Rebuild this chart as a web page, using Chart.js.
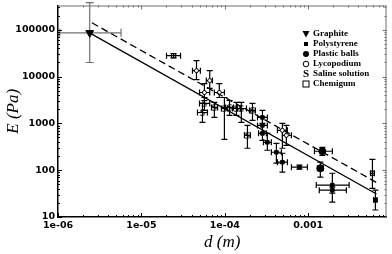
<!DOCTYPE html>
<html><head><meta charset="utf-8">
<script src="https://cdn.jsdelivr.net/npm/chart.js@4.4.0/dist/chart.umd.min.js"></script>
<style>html,body{margin:0;padding:0;background:#fff;}#wrap{width:392px;height:254px;}</style>
</head><body><div id="wrap"><canvas id="c" width="392" height="254"></canvas></div>
<script>
// ---- tick labels ----
const xTickValues = [1e-6, 1e-5, 1e-4, 1e-3];
const xTickLabels = ['1e-06', '1e-05', '1e-04', '0.001'];
const yTickValues = [10, 100, 1000, 10000, 100000];
const yTickLabels = ['10', '100', '1000', '10000', '100000'];
const seriesNames = ['Graphite', 'Polystyrene', 'Plastic balls', 'Lycopodium', 'Saline solution', 'Chemigum'];

// ---- data rows: [d, E, dLow, dHigh, ELow, EHigh] ----
const graphite = [
  [2.4e-6, 8.6e4, 1.05e-6, 5.7e-6, 2.0e4, 3.8e5]
];
const polystyrene = [
  [7.85e-4, 116, 6.3e-4, 9.8e-4, 105, 128],
  [6.4e-3, 23, 6.1e-3, 6.7e-3, 14.1, 37.5],
  [3.24e-4, 394, 2.91e-4, 3.62e-4, 267, 612],
  [4.16e-4, 242, 3.62e-4, 4.78e-4, 141, 375],
  [4.91e-4, 148, 4.28e-4, 5.64e-4, 91, 230],
  [1.95e-3, 48, 1.25e-3, 3.1e-3, 20.8, 86],
  [1.95e-3, 37.5, 1.36e-3, 2.87e-3, 32.4, 43.5],
  [2.83e-4, 1340, 2.47e-4, 3.24e-4, 1000, 1890],
  [2.83e-4, 906, 2.47e-4, 3.24e-4, 612, 1340],
  [2.83e-4, 612, 2.54e-4, 3.15e-4, 435, 906]
];
const plasticBalls = [
  [1.48e-3, 254, 1.19e-3, 1.95e-3, 208, 308],
  [1.4e-3, 110, 1.29e-3, 1.52e-3, 71, 148]
];
const lycopodium = [
  [4.58e-5, 13400, 4.1e-5, 5.1e-5, 8600, 21900],
  [6.6e-5, 8200, 6.0e-5, 7.1e-5, 5600, 13400],
  [5.7e-5, 4570, 4.98e-5, 6.6e-5, 3080, 7100],
  [8.6e-5, 4570, 7.5e-5, 9.9e-5, 3570, 7100],
  [4.91e-4, 710, 4.28e-4, 5.64e-4, 294, 1000],
  [5.48e-4, 556, 4.91e-4, 6.3e-4, 340, 906]
];
const saline = [
  [5.7e-5, 2670, 4.98e-5, 6.6e-5, 1890, 3570],
  [5.4e-5, 1710, 4.71e-5, 6.2e-5, 1050, 2670],
  [7.5e-5, 2190, 6.93e-5, 8.2e-5, 1340, 2800],
  [9.9e-5, 2080, 9.1e-5, 1.08e-4, 457, 3570],
  [1.14e-4, 2190, 1.02e-4, 1.27e-4, 1480, 3080],
  [1.38e-4, 2080, 1.24e-4, 1.54e-4, 1480, 2800],
  [1.58e-4, 2080, 1.42e-4, 1.82e-4, 1050, 2800],
  [1.87e-4, 556, 1.72e-4, 2.03e-4, 294, 906],
  [2.15e-4, 1890, 1.98e-4, 2.33e-4, 1160, 2670]
];
const chemigum = [
  [2.43e-5, 28000, 2.0e-5, 2.95e-5, 25000, 31000],
  [5.9e-3, 86, 5.6e-3, 6.2e-3, 41, 171]
];
// fit lines
const fitSolidD = [2.45e-6, 6.6e-3];
const fitSolidE = [8.4e4, 31];
const fitDashedD = [2.55e-6, 6.8e-3];
const fitDashedE = [1.41e5, 53];

function rows(arr) {
  return arr.map(r => ({x: r[0], y: r[1], xMin: r[2], xMax: r[3], yMin: r[4], yMax: r[5]}));
}
function makeS() {
  const c = document.createElement('canvas');
  c.width = 8; c.height = 11;
  const g = c.getContext('2d');
  g.font = 'bold 10px "Liberation Serif"';
  g.textAlign = 'center'; g.textBaseline = 'middle'; g.fillStyle = '#000';
  g.fillText('S', 4, 6);
  return c;
}
const sImg = makeS();

const errorBars = {
  id: 'errorBars',
  beforeDatasetsDraw(chart) {
    const {ctx, scales: {x, y}} = chart;
    chart.data.datasets.forEach((ds, i) => {
      if (!ds.errors) return;
      ctx.save();
      ctx.strokeStyle = ds.errColor || '#000';
      ctx.lineWidth = 1.2;
      const c = ds.cap || 3;
      ds.data.forEach(p => {
        const px = x.getPixelForValue(p.x), py = y.getPixelForValue(p.y);
        const x0 = x.getPixelForValue(p.xMin), x1 = x.getPixelForValue(p.xMax);
        const y0 = y.getPixelForValue(p.yMin), y1 = y.getPixelForValue(p.yMax);
        ctx.beginPath();
        ctx.moveTo(x0, py); ctx.lineTo(x1, py);
        ctx.moveTo(x0, py - c); ctx.lineTo(x0, py + c);
        ctx.moveTo(x1, py - c); ctx.lineTo(x1, py + c);
        ctx.moveTo(px, y0); ctx.lineTo(px, y1);
        ctx.moveTo(px - c, y0); ctx.lineTo(px + c, y0);
        ctx.moveTo(px - c, y1); ctx.lineTo(px + c, y1);
        ctx.stroke();
      });
      ctx.restore();
    });
  }
};

const frameTicks = {
  id: 'frameTicks',
  afterDraw(chart) {
    const {ctx, chartArea: a, scales: {x, y}} = chart;
    ctx.save();
    ctx.lineWidth = 1;
    ctx.strokeStyle = '#707070';
    ctx.beginPath();
    ctx.moveTo(a.left, a.top + 0.5); ctx.lineTo(a.right, a.top + 0.5);
    ctx.moveTo(a.right - 0.5, a.top); ctx.lineTo(a.right - 0.5, a.bottom);
    ctx.stroke();
    for (let e = -7; e <= -1; e++) {
      for (let m = 1; m <= 9; m++) {
        const v = m * Math.pow(10, e);
        if (v < x.min * 0.999 || v > x.max) continue;
        const px = Math.round(x.getPixelForValue(v)) + 0.5;
        const len = m === 1 ? 4 : 2;
        ctx.strokeStyle = '#000';
        ctx.beginPath(); ctx.moveTo(px, a.bottom); ctx.lineTo(px, a.bottom - len); ctx.stroke();
        ctx.strokeStyle = '#707070';
        ctx.beginPath(); ctx.moveTo(px, a.top); ctx.lineTo(px, a.top + len); ctx.stroke();
      }
    }
    for (let e = 0; e <= 6; e++) {
      for (let m = 1; m <= 9; m++) {
        const v = m * Math.pow(10, e);
        if (v < y.min * 0.999 || v > y.max) continue;
        const py = Math.round(y.getPixelForValue(v)) + 0.5;
        const len = m === 1 ? 4 : 2;
        ctx.strokeStyle = '#000';
        ctx.beginPath(); ctx.moveTo(a.left, py); ctx.lineTo(a.left + len, py); ctx.stroke();
        ctx.strokeStyle = '#707070';
        ctx.beginPath(); ctx.moveTo(a.right, py); ctx.lineTo(a.right - len, py); ctx.stroke();
      }
    }
    ctx.restore();
  }
};

const legendBox = {
  id: 'legendBox',
  afterDraw(chart) {
    const ctx = chart.ctx;
    const mx = 306, tx = 313, y0 = 34, dy = 10;
    ctx.save();
    ctx.fillStyle = '#000'; ctx.strokeStyle = '#000'; ctx.lineWidth = 1;
    ctx.font = 'bold 9px "Liberation Serif"';
    ctx.textBaseline = 'middle'; ctx.textAlign = 'left';
    seriesNames.forEach((name, i) => {
      const yy = y0 + i * dy;
      ctx.beginPath();
      if (i === 0) { ctx.moveTo(mx - 3.5, yy - 3); ctx.lineTo(mx + 3.5, yy - 3); ctx.lineTo(mx, yy + 3.5); ctx.closePath(); ctx.fill(); }
      else if (i === 1) { ctx.fillRect(mx - 2, yy - 2, 4, 4); }
      else if (i === 2) { ctx.arc(mx, yy, 3, 0, Math.PI * 2); ctx.fill(); }
      else if (i === 3) { ctx.arc(mx, yy, 2.8, 0, Math.PI * 2); ctx.stroke(); }
      else if (i === 4) { ctx.save(); ctx.font = 'bold 11px "Liberation Serif"'; ctx.textAlign = 'center'; ctx.fillText('S', mx, yy + 0.5); ctx.restore(); }
      else { ctx.strokeRect(mx - 3, yy - 3, 6, 6); }
      ctx.fillText(name, tx, yy);
    });
    ctx.restore();
  }
};

const tickFont = {family: 'DejaVu Sans', weight: 'bold', size: 9.5};
const titleFont = {family: 'Liberation Serif', style: 'italic', size: 17};

new Chart(document.getElementById('c'), {
  type: 'scatter',
  data: {
    datasets: [
      {type: 'line', data: fitSolidD.map((d, i) => ({x: d, y: fitSolidE[i]})), borderColor: '#000', borderWidth: 1.3, pointRadius: 0, showLine: true, fill: false},
      {type: 'line', data: fitDashedD.map((d, i) => ({x: d, y: fitDashedE[i]})), borderColor: '#000', borderWidth: 1.3, borderDash: [7, 4], pointRadius: 0, showLine: true, fill: false},
      {label: seriesNames[0], data: rows(graphite), errors: true, errColor: '#707070', cap: 4, pointStyle: 'triangle', rotation: 180, radius: 4.5, backgroundColor: '#000', borderColor: '#000', clip: false},
      {label: seriesNames[1], data: rows(polystyrene), errors: true, pointStyle: 'rect', radius: 2.5, backgroundColor: '#000', borderColor: '#000'},
      {label: seriesNames[2], data: rows(plasticBalls), errors: true, pointStyle: 'circle', radius: 3.5, backgroundColor: '#000', borderColor: '#000'},
      {label: seriesNames[3], data: rows(lycopodium), errors: true, pointStyle: 'circle', radius: 2, backgroundColor: '#fff', borderColor: '#000', borderWidth: 1},
      {label: seriesNames[4], data: rows(saline), errors: true, pointStyle: sImg, radius: 3},
      {label: seriesNames[5], data: rows(chemigum), errors: true, pointStyle: 'rect', radius: 3, backgroundColor: 'rgba(0,0,0,0)', borderColor: '#000', borderWidth: 1}
    ]
  },
  options: {
    responsive: false, animation: false, devicePixelRatio: 1,
    layout: {padding: {top: 5, right: 5, left: 0, bottom: 0}},
    plugins: {legend: {display: false}, tooltip: {enabled: false}},
    scales: {
      x: {
        type: 'logarithmic', min: 1e-6, max: 0.0087,
        grid: {display: false, drawTicks: false}, border: {color: '#000', width: 1.5},
        afterBuildTicks: s => { s.ticks = xTickValues.map(v => ({value: v})); },
        afterFit: s => { s.height = 37; s.paddingLeft = 0; s.paddingRight = 0; },
        ticks: {autoSkip: false, maxRotation: 0, padding: 3, color: '#000', font: tickFont,
          callback: (v, i) => xTickLabels[i]},
        title: {display: true, text: 'd (m)', color: '#000', font: titleFont, padding: {top: 0, bottom: 1}}
      },
      y: {
        type: 'logarithmic', min: 10, max: 330000,
        grid: {display: false, drawTicks: false}, border: {color: '#000', width: 1.5},
        afterBuildTicks: s => { s.ticks = yTickValues.map(v => ({value: v})); },
        afterFit: s => { s.width = 58; s.paddingTop = 0; s.paddingBottom = 0; },
        ticks: {autoSkip: false, padding: 3, color: '#000', font: tickFont,
          callback: (v, i) => yTickLabels[i]},
        title: {display: true, text: 'E (Pa)', color: '#000', font: titleFont, padding: {top: 3, bottom: 0}}
      }
    }
  },
  plugins: [errorBars, frameTicks, legendBox]
});
</script>
</body></html>
